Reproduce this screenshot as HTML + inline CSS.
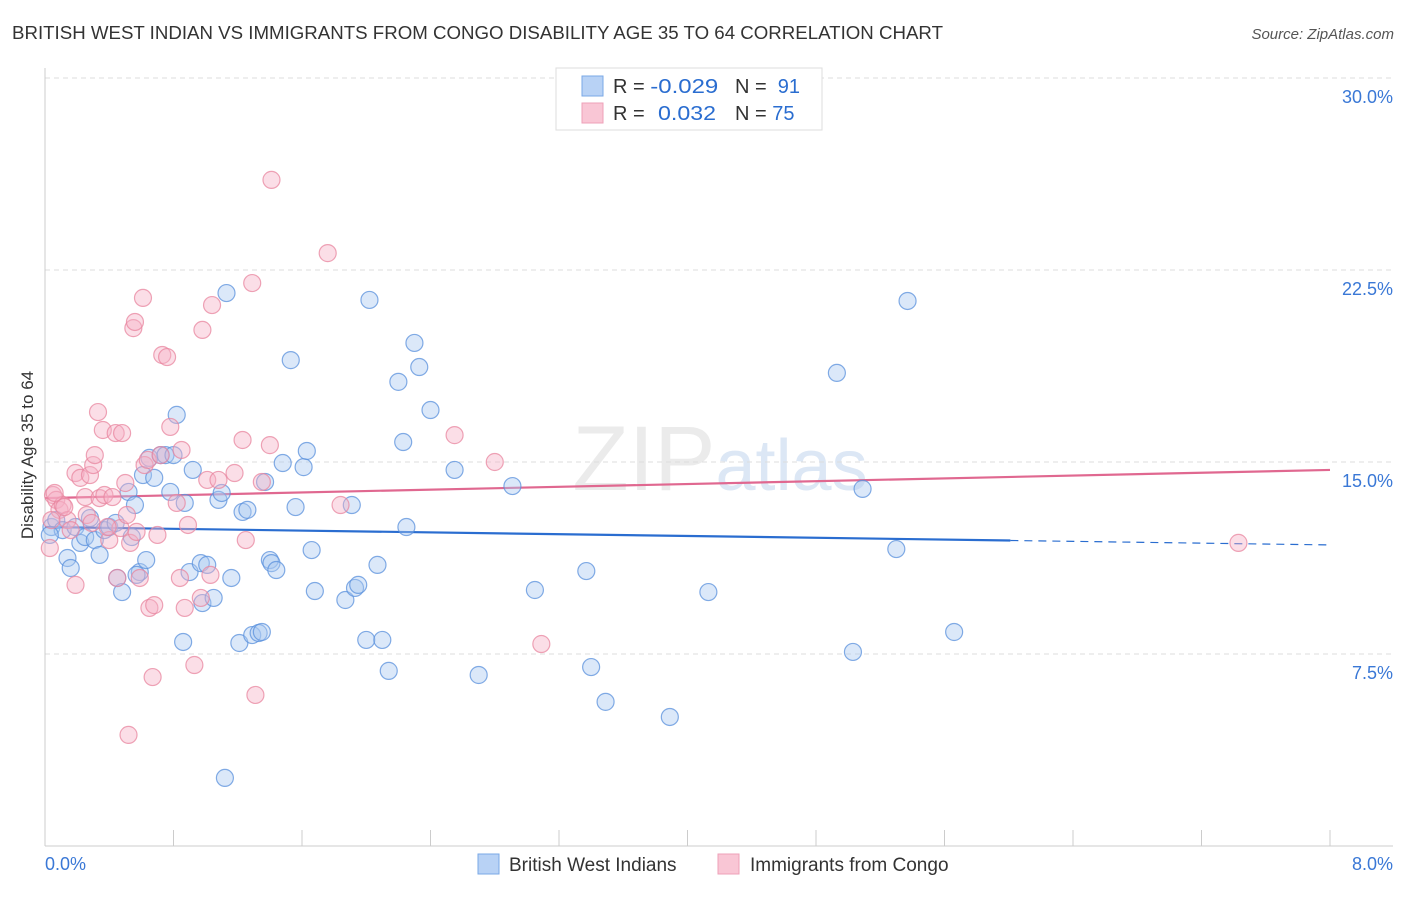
<!DOCTYPE html>
<html><head><meta charset="utf-8"><style>
body{margin:0;background:#fff;font-family:"Liberation Sans",sans-serif;}
svg text{font-family:"Liberation Sans",sans-serif;}
</style></head><body>
<svg id="chart" width="1406" height="892" viewBox="0 0 1406 892" xmlns="http://www.w3.org/2000/svg">
<text x="12" y="39" font-size="18" fill="#333" textLength="931" lengthAdjust="spacingAndGlyphs">BRITISH WEST INDIAN VS IMMIGRANTS FROM CONGO DISABILITY AGE 35 TO 64 CORRELATION CHART</text>
<text x="1394" y="39" font-size="15" fill="#555" text-anchor="end" font-style="italic">Source: ZipAtlas.com</text>
<text x="720" y="490" font-size="92" text-anchor="middle" fill="#ebebeb" font-family="Liberation Serif">ZIP<tspan fill="#dce7f5" font-family="Liberation Sans" font-size="72">atlas</tspan></text>
<g id="grid"></g>
<g id="axes"></g>
<g id="trends"></g>
<g id="points"></g>
<text transform="translate(33,455) rotate(-90)" font-size="17" fill="#333" text-anchor="middle">Disability Age 35 to 64</text>
<g>
<rect x="556" y="68" width="266" height="62" fill="#fff" stroke="#ddd"/>
<rect x="582" y="76" width="21" height="20" fill="#b8d2f5" stroke="#7aa8e6"/>
<rect x="582" y="103" width="21" height="20" fill="#f9c6d5" stroke="#eea0b8"/>
<text x="613" y="93" font-size="20" fill="#333">R = <tspan fill="#2a6dd0" textLength="68" lengthAdjust="spacingAndGlyphs">-0.029</tspan></text>
<text x="735" y="93" font-size="20" fill="#333">N = <tspan fill="#2a6dd0">&#160;91</tspan></text>
<text x="613" y="120" font-size="20" fill="#333">R = <tspan fill="#2a6dd0" x="658" textLength="58" lengthAdjust="spacingAndGlyphs">0.032</tspan></text>
<text x="735" y="120" font-size="20" fill="#333">N = <tspan fill="#2a6dd0">75</tspan></text>
</g>
<g>
<rect x="478" y="854" width="21" height="20" fill="#b8d2f5" stroke="#7aa8e6"/>
<text x="509" y="871" font-size="19" fill="#333">British West Indians</text>
<rect x="718" y="854" width="21" height="20" fill="#f9c6d5" stroke="#eea0b8"/>
<text x="750" y="871" font-size="19" fill="#333">Immigrants from Congo</text>
</g>
</svg>
<script>
const yTicks=[7.5,15,22.5,30];
const yTickLabels=["7.5%","15.0%","22.5%","30.0%"];
const xTickCount=10;
const blueX=[0.04,0.07,0.11,0.14,0.16,0.19,0.22,0.25,0.28,0.31,0.34,0.37,0.40,0.44,0.45,0.48,0.52,0.54,0.56,0.59,0.61,0.63,0.65,0.68,0.72,0.75,0.78,0.80,0.82,0.86,0.87,0.90,0.92,0.97,0.98,1.01,1.05,1.08,1.10,1.13,1.16,1.21,1.23,1.26,1.29,1.33,1.35,1.37,1.40,1.41,1.44,1.48,1.53,1.56,1.61,1.63,1.66,1.68,1.12,1.87,1.91,1.93,1.95,2.00,2.02,2.07,2.10,2.14,2.20,2.23,2.25,2.30,2.33,2.40,2.55,2.70,2.91,3.05,3.37,3.40,3.49,3.89,4.13,4.93,5.03,5.09,5.30,5.37,5.66,0.03,0.57];
const blueY=[12.46,12.73,12.34,11.25,10.86,12.46,11.84,12.07,12.81,11.95,11.37,12.34,12.46,12.62,10.47,9.92,13.83,12.07,13.32,10.70,14.49,11.17,15.16,14.38,15.27,15.27,13.83,15.27,16.84,7.97,13.40,10.70,14.69,11.05,9.49,10.98,9.69,13.52,13.79,21.60,10.47,7.93,13.05,13.13,8.24,8.32,8.36,14.22,11.17,11.05,10.78,14.96,18.98,13.24,14.80,15.43,11.56,9.96,2.66,9.61,13.32,10.08,10.20,8.05,21.33,10.98,8.05,6.84,18.13,15.78,12.46,19.65,18.71,17.03,14.69,6.68,14.06,10.00,10.74,6.99,5.63,5.04,9.92,18.48,7.58,13.95,11.60,21.29,8.36,12.15,10.59];
const pinkX=[0.03,0.05,0.07,0.09,0.11,0.14,0.19,0.19,0.22,0.25,0.26,0.28,0.30,0.31,0.33,0.34,0.36,0.37,0.40,0.42,0.44,0.45,0.47,0.48,0.50,0.51,0.53,0.55,0.57,0.59,0.61,0.62,0.64,0.65,0.67,0.68,0.70,0.72,0.73,0.76,0.78,0.82,0.84,0.85,0.87,0.89,0.93,0.97,0.98,1.01,1.03,1.04,1.08,1.18,1.23,1.25,1.29,1.31,1.35,1.40,1.41,1.76,1.84,2.55,2.80,3.09,7.43,0.04,0.06,0.12,0.16,0.29,0.39,0.52,0.56];
const pinkY=[11.64,13.71,13.52,13.13,13.32,12.73,10.20,14.57,14.38,13.63,12.93,14.49,14.88,15.27,16.95,13.59,16.25,13.71,11.95,13.63,16.13,10.47,12.42,16.13,14.18,12.93,11.84,20.23,12.27,10.47,21.41,14.88,15.08,9.30,6.60,9.41,12.15,15.27,19.18,19.10,16.37,13.40,10.47,15.47,9.30,12.54,7.07,9.69,20.16,14.30,10.59,21.13,14.30,14.57,15.86,11.95,21.99,5.90,14.22,15.66,26.02,23.16,13.32,16.05,15.00,7.89,11.84,12.73,13.79,13.24,12.34,12.62,12.46,4.34,20.47];
const blueTrend=[12.46,11.76];
const blueSolidEnd=6.01;
const pinkTrend=[13.59,14.69];

const NS="http://www.w3.org/2000/svg";
const X=v=>45+v*160.625;
const Y=v=>846-v*25.6;
function mk(tag,attrs,parent){const e=document.createElementNS(NS,tag);for(const k in attrs)e.setAttribute(k,attrs[k]);document.getElementById(parent).appendChild(e);return e;}

yTicks.forEach((t,i)=>{
  const l=mk('line',{x1:45,x2:1393,y1:Y(t),y2:Y(t),stroke:'#ddd','stroke-dasharray':'5,4'},'grid');
  
  
  const tx=mk('text',{x:1393,y:Y(t)+25,'font-size':18,fill:'#3a78d6','text-anchor':'end'},'grid');
  tx.textContent=yTickLabels[i];
  
  
});
const ya=mk('line',{x1:45,x2:45,y1:68,y2:846,stroke:'#ccc'},'axes');


const xa=mk('line',{x1:45,x2:1393,y1:846,y2:846,stroke:'#ccc'},'axes');


for(let i=0;i<=xTickCount;i++){
  const t=mk('line',{x1:X(i*0.8),x2:X(i*0.8),y1:830,y2:846,stroke:'#ccc'},'axes');
  
  
}
const x0=mk('text',{x:45,y:870,'font-size':18,fill:'#3a78d6'},'axes');x0.textContent='0.0%';


const x8=mk('text',{x:1393,y:870,'font-size':18,fill:'#3a78d6','text-anchor':'end'},'axes');x8.textContent='8.0%';



function drawPts(xs,ys,fill,stroke,name){
  xs.forEach((x,i)=>{
    const c=mk('circle',{cx:X(x),cy:Y(ys[i]),r:8.5,fill:fill,'fill-opacity':0.42,stroke:stroke,'stroke-opacity':0.75,'stroke-width':1.2},'points');
    
    
  });
}
drawPts(blueX,blueY,'#a9c8f0','#5a90dc','point-british-west-indian');
drawPts(pinkX,pinkY,'#f5b0c5','#e8859f','point-immigrants-congo');

const bAt=x=>blueTrend[0]+(blueTrend[1]-blueTrend[0])*x/8;
const b1=mk('line',{x1:X(0),y1:Y(bAt(0)),x2:X(blueSolidEnd),y2:Y(bAt(blueSolidEnd)),stroke:'#2a6dd0','stroke-width':2.2},'trends');


const b2=mk('line',{x1:X(blueSolidEnd),y1:Y(bAt(blueSolidEnd)),x2:X(8),y2:Y(bAt(8)),stroke:'#2a6dd0','stroke-width':1.2,'stroke-dasharray':'8,6'},'trends');


const p1=mk('line',{x1:X(0),y1:Y(pinkTrend[0]),x2:X(8),y2:Y(pinkTrend[1]),stroke:'#e06890','stroke-width':2.2},'trends');


</script>
</body></html>
